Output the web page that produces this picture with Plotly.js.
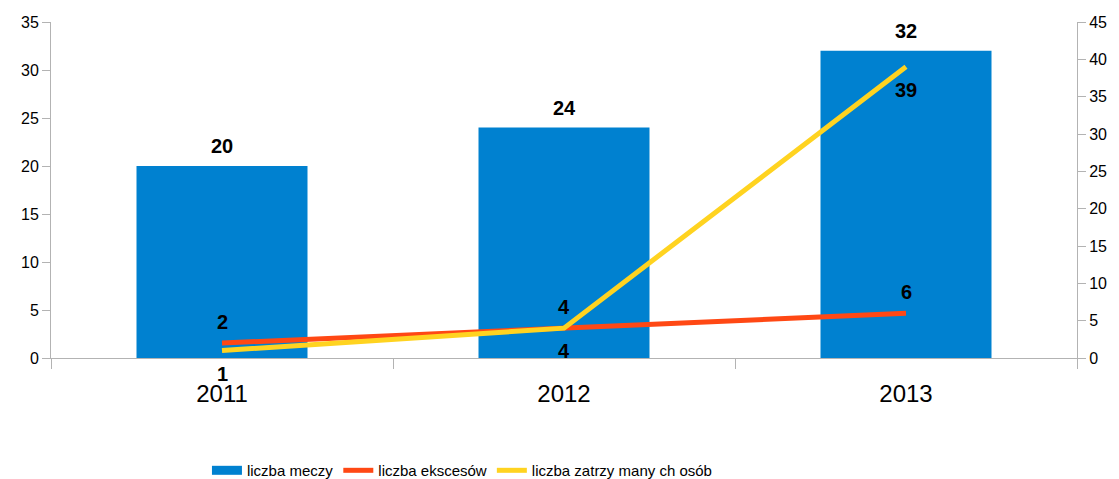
<!DOCTYPE html>
<html><head><meta charset="utf-8">
<script src="https://cdn.plot.ly/plotly-3.0.1.min.js"></script>
<style>html,body{margin:0;padding:0;background:#fff;}#chart{width:1119px;height:479px;}</style>
</head><body><div id="chart"></div>
<script>
const years = ['2011', '2012', '2013'];
const liczbaMeczy = [20, 24, 32];
const liczbaEkscesow = [2, 4, 6];
const liczbaZatrzymanych = [1, 4, 39];
const seriesNames = ['liczba meczy', 'liczba ekscesów', 'liczba zatrzy many ch osób'];
const colors = ['#0081D0', '#FF4814', '#FFD320'];

const labelFont = {family: 'Liberation Sans, Arial, sans-serif', size: 20, color: '#000'};
const bold = v => '<b>' + v + '</b>';
const traces = [
  {type: 'bar', x: years, y: liczbaMeczy, name: seriesNames[0], marker: {color: colors[0]}, showlegend: false},
  {type: 'scatter', mode: 'lines', x: [years[0]], y: [null], name: seriesNames[0], line: {color: colors[0], width: 9}},
  {type: 'scatter', mode: 'lines', x: years, y: liczbaEkscesow, name: seriesNames[1], yaxis: 'y2',
   line: {color: colors[1], width: 5}},
  {type: 'scatter', mode: 'lines', x: years, y: liczbaZatrzymanych, name: seriesNames[2], yaxis: 'y2',
   line: {color: colors[2], width: 5}}
];

// annotation x uses the category index of each year on the category axis
function labels(vals, yref, shift) {
  return vals.map((v, i) => ({x: years.indexOf(years[i]), y: v, xref: 'x', yref: yref, text: bold(v), showarrow: false,
    yanchor: 'middle', yshift: shift, font: labelFont}));
}
const annotations = [].concat(
  labels(liczbaMeczy, 'y', 20),
  labels(liczbaEkscesow, 'y2', 21),
  labels(liczbaZatrzymanych, 'y2', -23)
);

const layout = {
  width: 1119, height: 479,
  margin: {l: 51, r: 42, t: 22, b: 121, autoexpand: false},
  paper_bgcolor: '#fff', plot_bgcolor: '#fff',
  font: {family: 'Liberation Sans, Arial, sans-serif', color: '#000'},
  bargap: 0.5,
  showlegend: true,
  annotations: annotations,
  legend: {orientation: 'h', x: 0.152, xanchor: 'left', y: -0.335, yanchor: 'middle',
           font: {size: 15}, traceorder: 'normal', tracegroupgap: 0},
  xaxis: {type: 'category', range: [-0.5, years.length - 0.5], showgrid: false, showline: true, linecolor: '#b3b3b3', linewidth: 1,
          ticks: 'outside', tickson: 'boundaries', ticklen: 10, tickcolor: '#b3b3b3',
          tickfont: {size: 24}, ticklabelstandoff: 14, zeroline: false},
  yaxis: {range: [0, 35], dtick: 5, showgrid: false, showline: true, linecolor: '#b3b3b3',
          ticks: 'outside', ticklen: 8, tickcolor: '#b3b3b3', tickfont: {size: 16}, zeroline: false},
  yaxis2: {range: [0, 45], dtick: 5, overlaying: 'y', side: 'right', showgrid: false, showline: true,
           linecolor: '#b3b3b3', ticks: 'outside', ticklen: 8, tickcolor: '#b3b3b3', tickfont: {size: 16}, zeroline: false}
};
Plotly.newPlot('chart', traces, layout, {staticPlot: true});
</script></body></html>
